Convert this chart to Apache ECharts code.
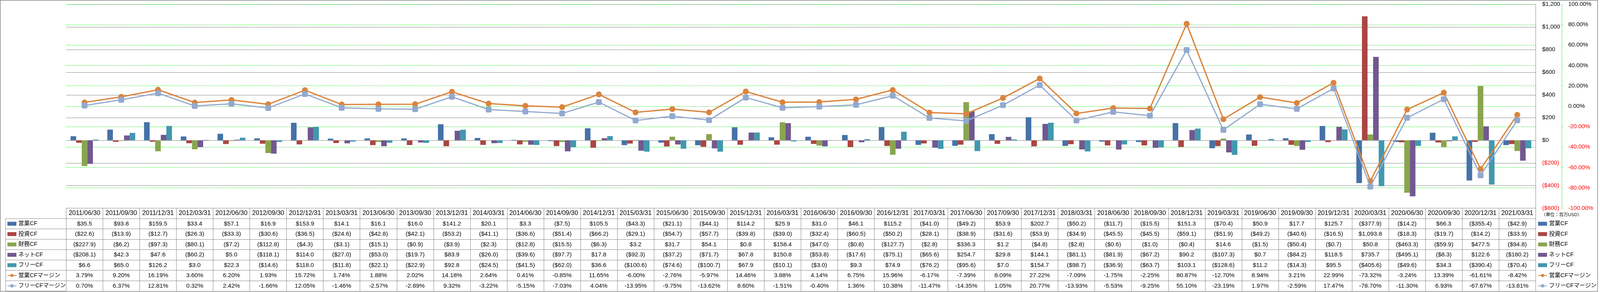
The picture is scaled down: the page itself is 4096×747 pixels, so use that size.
<!DOCTYPE html>
<html>
<head>
<meta charset="utf-8">
<script src="https://cdn.jsdelivr.net/npm/echarts@6/dist/echarts.min.js"></script>
<style>
html,body{margin:0;padding:0;background:#fff;}
#c{width:4096px;height:747px;}
</style>
</head>
<body>
<div id="c"></div>
<script>
// ---------------- data ----------------
const categories = ['2011/06/30','2011/09/30','2011/12/31','2012/03/31','2012/06/30','2012/09/30','2012/12/31','2013/03/31','2013/06/30','2013/09/30','2013/12/31','2014/03/31','2014/06/30','2014/09/30','2014/12/31','2015/03/31','2015/06/30','2015/09/30','2015/12/31','2016/03/31','2016/06/30','2016/09/30','2016/12/31','2017/03/31','2017/06/30','2017/09/30','2017/12/31','2018/03/31','2018/06/30','2018/09/30','2018/12/31','2019/03/31','2019/06/30','2019/09/30','2019/12/31','2020/03/31','2020/06/30','2020/09/30','2020/12/31','2021/03/31'];
const opCF = [35.5,93.8,159.5,33.4,57.1,16.9,153.9,14.1,16.1,16.0,141.2,20.1,3.3,-7.5,105.5,-43.3,-21.1,-44.1,114.2,25.9,31.0,46.1,115.2,-41.0,-49.2,53.9,202.7,-50.2,-11.7,-15.5,151.3,-70.4,50.9,17.7,125.7,-377.9,-14.2,66.3,-355.4,-42.9];
const invCF = [-22.6,-13.9,-12.7,-26.3,-33.3,-30.6,-36.5,-24.6,-42.8,-42.1,-53.2,-41.1,-36.6,-51.4,-66.2,-29.1,-54.7,-57.7,-39.8,-39.0,-32.4,-60.5,-50.2,-28.1,-38.9,-31.6,-53.9,-34.9,-45.5,-45.5,-59.1,-51.9,-49.2,-40.6,-16.5,1093.8,-18.3,-19.7,-14.2,-33.9];
const finCF = [-227.9,-6.2,-97.3,-80.1,-7.2,-112.8,-4.3,-3.1,-15.1,-0.9,-3.9,-2.3,-12.8,-15.5,-6.3,3.2,31.7,54.1,0.8,158.4,-47.0,-0.8,-127.7,-2.8,336.3,1.2,-4.8,-2.8,-0.6,-1.0,-0.4,14.6,-1.5,-50.4,-0.7,50.8,-463.3,-59.9,477.5,-94.8];
const netCF = [-208.1,42.3,47.6,-60.2,5.0,-118.1,114.0,-27.0,-53.0,-19.7,83.9,-26.0,-39.6,-97.7,17.8,-92.3,-37.2,-71.7,67.8,150.8,-53.8,-17.6,-75.1,-65.6,254.7,29.8,144.1,-81.1,-81.9,-67.2,90.2,-107.3,0.7,-84.2,118.5,735.7,-495.1,-8.3,122.6,-180.2];
const freeCF = [6.6,65.0,126.2,3.0,22.3,-14.6,118.0,-11.8,-22.1,-22.9,92.8,-24.5,-41.5,-62.0,36.6,-100.6,-74.6,-100.7,67.9,-10.1,-3.0,9.3,74.9,-76.2,-95.6,7.0,154.7,-98.7,-36.9,-63.7,103.1,-128.6,11.2,-14.3,95.5,-405.6,-49.6,34.3,-390.4,-70.4];
const opMargin = [3.79,9.20,16.19,3.60,6.20,1.93,15.72,1.74,1.88,2.02,14.18,2.64,0.41,-0.85,11.65,-6.00,-2.76,-5.97,14.46,3.88,4.14,6.75,15.96,-6.17,-7.39,8.09,27.22,-7.09,-1.75,-2.25,80.87,-12.70,8.94,3.21,22.99,-73.32,-3.24,13.39,-61.61,-8.42];
const freeMargin = [0.70,6.37,12.81,0.32,2.42,-1.66,12.05,-1.46,-2.57,-2.89,9.32,-3.22,-5.15,-7.03,4.04,-13.95,-9.75,-13.62,8.60,-1.51,-0.40,1.36,10.38,-11.47,-14.35,1.05,20.77,-13.93,-5.53,-9.25,55.10,-23.19,1.97,-2.59,17.47,-78.70,-11.30,6.93,-67.67,-13.81];
const seriesNames = ['営業CF','投資CF','財務CF','ネットCF','フリーCF','営業CFマージン','フリーCFマージン'];
const moneyTicks = {min:-600, max:1200, interval:200};
const pctTicks = {min:-100, max:100, interval:20};
const unitLabel = '（単位：百万USD）';

// ---------------- layout / style ----------------
const S = 0.58;
const W = 4096, H = 747;
const FONT = '"Liberation Sans","Noto Sans CJK JP",sans-serif';
const GRID = '#868686';
const GREEN = '#11e011';
const colors = ['#4572A7','#AA4643','#89A54E','#71588F','#4198AF','#DB843D','#93A9CF'];
const gLeft = 292*S, gRight = 6778*S, gTop = 18.8*S, gBottom = 918.5*S;
const rowH = 45.69*S;

function fmtMoney(v){
  const s = Math.abs(v).toLocaleString('en-US',{minimumFractionDigits:1,maximumFractionDigits:1});
  return v < 0 ? '($'+s+')' : '$'+s;
}
function fmtPct(v){ return v.toFixed(2)+'%'; }
function fmtTickMoney(v){
  const s = Math.abs(v).toLocaleString('en-US');
  return v < 0 ? '{n|($'+s+')}' : '{p|$'+s+'}';
}
function fmtTickPct(v){ return v < 0 ? '{n|'+v.toFixed(2)+'%}' : '{p|'+v.toFixed(2)+'%}'; }

const rows = [opCF,invCF,finCF,netCF,freeCF].map(a=>a.map(fmtMoney))
  .concat([opMargin,freeMargin].map(a=>a.map(fmtPct)));

function tableAxis(data, k, fs){
  return {
    type:'category', data:data, position:'bottom', offset:k*rowH, boundaryGap:true,
    axisLine:{show:true,onZero:false,lineStyle:{color:GRID,width:1}},
    axisTick:{show:true,interval:0,length:rowH,lineStyle:{color:GRID,width:1}},
    axisLabel:{show:true,interval:0,margin:0,lineHeight:rowH,verticalAlign:'top',
      fontSize:fs,color:'#000',fontFamily:FONT},
    splitLine:{show:false}
  };
}
const xAxes = [tableAxis(categories,0,16.4)];
rows.forEach((r,i)=>xAxes.push(tableAxis(r,i+1,15.4)));

const barKeys = [opCF,invCF,finCF,netCF,freeCF];
const series = [];
barKeys.forEach((d,i)=>{
  series.push({name:seriesNames[i], type:'bar', xAxisIndex:0, yAxisIndex:0, data:d,
    barGap:'0%', barCategoryGap:'24%', itemStyle:{color:colors[i]}, z:2});
});
series.push({name:seriesNames[5], type:'line', xAxisIndex:0, yAxisIndex:1, data:opMargin,
  symbol:'circle', symbolSize:15, lineStyle:{color:colors[5],width:3.3},
  itemStyle:{color:colors[5]}, z:4});
series.push({name:seriesNames[6], type:'line', xAxisIndex:0, yAxisIndex:1, data:freeMargin,
  symbol:'roundRect', symbolSize:15, lineStyle:{color:colors[6],width:3},
  itemStyle:{color:colors[6]}, z:5});

const legendData = seriesNames.map((n,i)=> i<5 ? {name:n, icon:'rect'} : {name:n});
function legendAt(left){
  return {orient:'vertical', left:left, top:964*S, padding:0, itemGap:0,
    itemWidth:23, itemHeight:10, selectedMode:false, data:legendData,
    textStyle:{fontSize:14.6, lineHeight:rowH, color:'#000', fontFamily:FONT}};
}

// left label column lines (layout only)
const colLines = [];
const cx0 = 25*S, cy0 = 964*S;
colLines.push({type:'line', shape:{x1:cx0,y1:cy0,x2:cx0,y2:cy0+7*rowH}, style:{stroke:GRID,lineWidth:1}, silent:true});
for(let k=0;k<=7;k++){
  colLines.push({type:'line', shape:{x1:cx0,y1:cy0+k*rowH,x2:gLeft,y2:cy0+k*rowH}, style:{stroke:GRID,lineWidth:1}, silent:true});
}

const option = {
  animation:false,
  backgroundColor:'#fff',
  textStyle:{fontFamily:FONT},
  grid:{left:gLeft, right:W-gRight, top:gTop, bottom:H-gBottom, containLabel:false},
  legend:[legendAt(31*S), legendAt(6787*S)],
  xAxis:xAxes,
  yAxis:[
    {type:'value', position:'right', min:moneyTicks.min, max:moneyTicks.max, interval:moneyTicks.interval,
      axisLine:{show:true,onZero:false,lineStyle:{color:GRID,width:1}},
      axisTick:{show:false},
      splitLine:{show:true,lineStyle:{color:GRID,width:1}},
      axisLabel:{margin:16.8, formatter:fmtTickMoney, fontFamily:FONT,
        rich:{p:{color:'#000',fontSize:15,fontFamily:FONT},n:{color:'#ff0000',fontSize:15,fontFamily:FONT}}}},
    {type:'value', position:'right', offset:(6893-6778)*S, min:pctTicks.min, max:pctTicks.max, interval:pctTicks.interval,
      axisLine:{show:true,onZero:false,lineStyle:{color:GREEN,width:1,type:[3,2]}},
      axisTick:{show:true,length:5,lineStyle:{color:GREEN,width:1,type:[2,2]}},
      splitLine:{show:true,lineStyle:{color:GREEN,width:1,type:[3,2]}},
      axisLabel:{margin:16.8, formatter:fmtTickPct, fontFamily:FONT,
        rich:{p:{color:'#000',fontSize:15,fontFamily:FONT},n:{color:'#ff0000',fontSize:15,fontFamily:FONT}}}}
  ],
  series:series,
  graphic:[
    {type:'rect', shape:{x:0.75,y:0.75,width:7050*S,height:1284*S}, style:{fill:'none',stroke:'#888',lineWidth:1.5}, silent:true, z:100},
    {type:'text', left:6803*S, top:938*S, style:{text:unitLabel, fontSize:11.4, fill:'#000', fontFamily:FONT}, silent:true}
  ].concat(colLines)
};

const chart = echarts.init(document.getElementById('c'), null, {renderer:'canvas'});
chart.setOption(option);
</script>
</body>
</html>
